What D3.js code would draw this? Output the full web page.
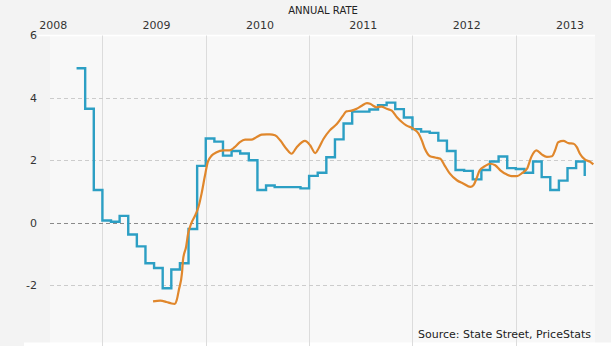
<!DOCTYPE html>
<html>
<head>
<meta charset="utf-8">
<script src="https://cdn.jsdelivr.net/npm/d3@7"></script>
<style>
  html, body { margin: 0; padding: 0; background: #f3f3f3; }
  svg { display: block; }
  text { font-family: "DejaVu Sans", Verdana, sans-serif; fill: #222; }
</style>
</head>
<body>
<svg id="chart" width="611" height="346"></svg>
<script>
// ---- Data ----
const title = "ANNUAL RATE";
const source = "Source: State Street, PriceStats";
const yearLabels = [2008, 2009, 2010, 2011, 2012, 2013];
const yTicks = [-2, 0, 2, 4, 6];

// Official CPI (monthly, plotted at month shown)
const cpiMonths = ["2008-10","2008-11","2008-12","2009-01","2009-02","2009-03","2009-04","2009-05","2009-06","2009-07","2009-08","2009-09","2009-10","2009-11","2009-12",
  "2010-01","2010-02","2010-03","2010-04","2010-05","2010-06","2010-07","2010-08","2010-09","2010-10","2010-11","2010-12",
  "2011-01","2011-02","2011-03","2011-04","2011-05","2011-06","2011-07","2011-08","2011-09","2011-10","2011-11","2011-12",
  "2012-01","2012-02","2012-03","2012-04","2012-05","2012-06","2012-07","2012-08","2012-09","2012-10","2012-11","2012-12",
  "2013-01","2013-02","2013-03","2013-04","2013-05","2013-06","2013-07","2013-08","2013-09"];
const cpiValues = [4.95,3.65,1.05,0.07,0.03,0.22,-0.38,-0.76,-1.3,-1.45,-2.1,-1.5,-1.3,-0.2,1.82,
  2.7,2.6,2.15,2.3,2.22,2.0,1.05,1.19,1.14,1.14,1.14,1.1,
  1.5,1.6,2.1,2.67,3.18,3.56,3.56,3.63,3.77,3.85,3.64,3.37,
  3.0,2.92,2.88,2.63,2.3,1.69,1.66,1.39,1.69,1.96,2.12,1.75,
  1.72,1.6,1.96,1.46,1.05,1.35,1.75,1.96,1.5];

// PriceStats daily index (decimal year, annual rate)
const psYears = [2009.49,2009.56,2009.62,2009.67,2009.70,2009.72,2009.74,2009.77,2009.78,2009.81,2009.83,2009.86,2009.90,2009.93,2009.96,2009.99,
  2010.02,2010.06,2010.10,2010.17,2010.23,2010.28,2010.33,2010.38,2010.44,2010.49,2010.54,2010.59,2010.62,2010.67,2010.72,2010.78,2010.83,2010.88,2010.93,2010.96,
  2011.01,2011.06,2011.09,2011.14,2011.20,2011.27,2011.33,2011.36,2011.41,2011.46,2011.51,2011.56,2011.59,2011.62,2011.65,2011.70,2011.75,2011.80,2011.85,2011.90,2011.94,
  2012.01,2012.06,2012.09,2012.12,2012.17,2012.22,2012.27,2012.31,2012.36,2012.43,2012.49,2012.56,2012.59,2012.62,2012.65,2012.70,2012.75,2012.80,2012.85,2012.91,2012.96,
  2013.01,2013.06,2013.11,2013.15,2013.20,2013.25,2013.30,2013.35,2013.38,2013.41,2013.46,2013.51,2013.56,2013.59,2013.62,2013.67,2013.72,2013.75];
const psValues = [-2.52,-2.50,-2.54,-2.59,-2.60,-2.47,-2.15,-1.61,-1.19,-0.77,-0.34,-0.02,0.25,0.51,0.94,1.47,
  1.95,2.16,2.25,2.32,2.32,2.42,2.58,2.66,2.66,2.74,2.82,2.83,2.83,2.80,2.64,2.37,2.21,2.42,2.58,2.62,
  2.48,2.23,2.37,2.69,2.96,3.17,3.44,3.57,3.59,3.65,3.75,3.83,3.81,3.75,3.70,3.72,3.65,3.59,3.38,3.22,3.12,
  3.01,2.85,2.64,2.37,2.13,2.09,2.05,1.84,1.58,1.36,1.26,1.15,1.20,1.42,1.68,1.81,1.89,1.84,1.68,1.55,1.49,
  1.49,1.59,1.74,2.11,2.32,2.19,2.11,2.13,2.32,2.58,2.62,2.55,2.53,2.42,2.21,2.02,1.95,1.87];

// ---- Build ----
const monthToYear = s => { const [y, m] = s.split("-").map(Number); return y + (m - 1) / 12; };
const cpi = cpiMonths.map((m, i) => ({ t: monthToYear(m), v: cpiValues[i] }));
const ps = psYears.map((t, i) => ({ t, v: psValues[i] }));

const svg = d3.select("#chart");
const W = 611, H = 346;
const plot = { left: 50, right: 595, top: 35.5, bottom: 347.5 };

const x = d3.scaleLinear().domain([2008.493, 2013.766]).range([plot.left, plot.right]);
const y = d3.scaleLinear().domain([-4, 6]).range([plot.bottom, plot.top]);

// plot background
svg.append("rect").attr("x", plot.left).attr("y", plot.top)
  .attr("width", plot.right - plot.left).attr("height", H - plot.top)
  .attr("fill", "#f8f8f8");
// bottom white strip
svg.append("rect").attr("x", 24).attr("y", 342.5).attr("width", W - 24).attr("height", 4).attr("fill", "#ffffff");

// top border line
svg.append("line").attr("x1", 38).attr("x2", plot.right).attr("y1", plot.top).attr("y2", plot.top)
  .attr("stroke", "#ffffff").attr("stroke-width", 1.5);

// vertical gridlines at year boundaries
svg.append("g").selectAll("line").data(d3.range(2009, 2014)).join("line")
  .attr("x1", d => Math.round(x(d)) + 0.5).attr("x2", d => Math.round(x(d)) + 0.5)
  .attr("y1", plot.top).attr("y2", H)
  .attr("stroke", "#dcdcdc").attr("stroke-width", 1);

// horizontal dashed gridlines
svg.append("g").selectAll("line").data(yTicks.filter(d => d !== 6)).join("line")
  .attr("x1", plot.left).attr("x2", plot.right)
  .attr("y1", d => Math.round(y(d)) + 0.5).attr("y2", d => Math.round(y(d)) + 0.5)
  .attr("stroke", d => d === 0 ? "#8a8a8a" : "#cccccc")
  .attr("stroke-dasharray", "4,3").attr("stroke-width", 1);

// y tick labels
svg.append("g").selectAll("text").data(yTicks).join("text")
  .attr("x", 37).attr("y", d => y(d)).attr("dy", "0.36em")
  .attr("text-anchor", "end").style("font-size", "11px").style("fill", "#333")
  .text(d => d);

// year labels (top)
svg.append("g").selectAll("text").data(yearLabels).join("text")
  .attr("x", d => x(d + 0.5) + 2.5).attr("y", 29)
  .attr("text-anchor", "middle").style("font-size", "11px").style("fill", "#333")
  .text(d => d);

// title
svg.append("text").attr("x", 323).attr("y", 14).attr("text-anchor", "middle")
  .style("font-size", "10px").style("fill", "#222").text(title);

// source
svg.append("text").attr("x", 591).attr("y", 338).attr("text-anchor", "end")
  .style("font-size", "11px").style("fill", "#222").text(source);

// series
const psLine = d3.line().x(d => x(d.t)).y(d => y(d.v)).curve(d3.curveMonotoneX);
const cpiLine = d3.line().x(d => x(d.t)).y(d => y(d.v)).curve(d3.curveStepAfter);

svg.append("path").datum(cpi).attr("d", cpiLine)
  .attr("fill", "none").attr("stroke", "#2c9fc4").attr("stroke-width", 2.4)
  .attr("stroke-linejoin", "miter");

svg.append("path").datum(ps).attr("d", psLine)
  .attr("fill", "none").attr("stroke", "#e0872c").attr("stroke-width", 2.2)
  .attr("stroke-linejoin", "round");
</script>
</body>
</html>
